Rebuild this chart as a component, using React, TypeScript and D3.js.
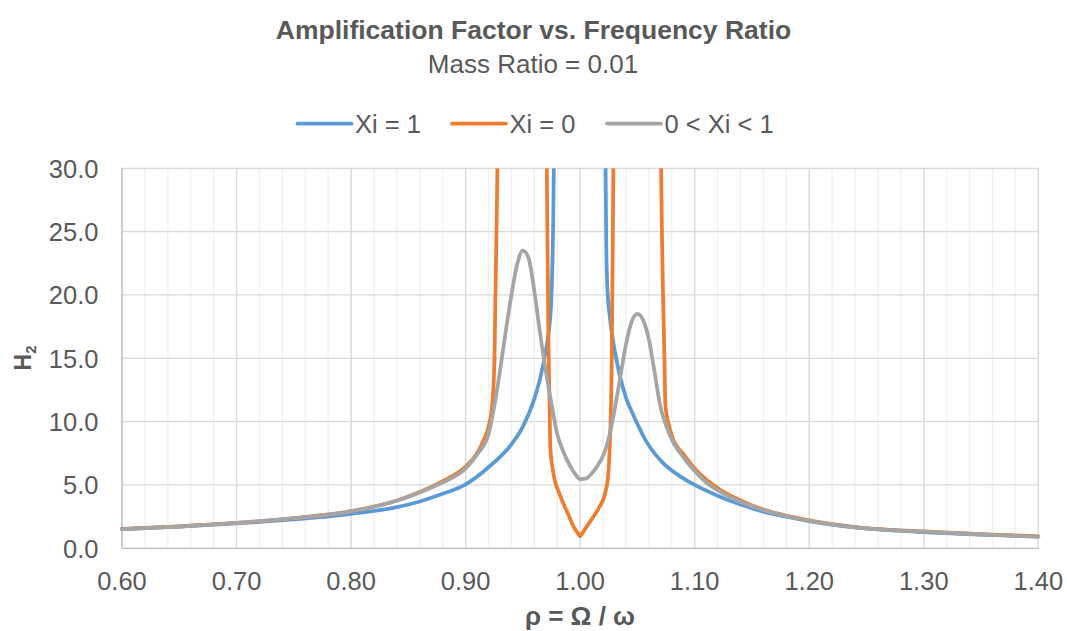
import React from "react";
import * as d3 from "d3";

const xTicks = [0.6, 0.7, 0.8, 0.9, 1.0, 1.1, 1.2, 1.3, 1.4];
const xMinorTicks = d3.range(0.6, 1.4001, 0.02);
const yTicks = [0, 5, 10, 15, 20, 25, 30];

const seriesNames = ["Xi = 1", "Xi = 0", "0 < Xi < 1"];
const seriesColors = ["#5B9BD5", "#ED7D31", "#A5A5A5"];

// Xi = 1
const blueRho = [0.60, 0.65, 0.70, 0.75, 0.80, 0.84, 0.86, 0.88, 0.90, 0.92, 0.94, 0.95, 0.96, 0.965, 0.97, 0.973, 0.975, 0.9765, 0.9775, 0.979, 1.0, 1.021, 1.0222, 1.0228, 1.0238, 1.026, 1.03, 1.035, 1.04, 1.0465, 1.058, 1.0727, 1.087, 1.10, 1.12, 1.14, 1.16, 1.18, 1.20, 1.24, 1.30, 1.35, 1.40];
const blueH = [1.52, 1.72, 1.97, 2.28, 2.72, 3.25, 3.7, 4.3, 5.05, 6.4, 8.2, 9.6, 11.8, 13.4, 15.6, 17.4, 20, 26, 34, 45, 45, 45, 30, 24, 20.5, 18.2, 15.7, 13.5, 11.9, 10.5, 8.4, 6.7, 5.7, 5.0, 4.15, 3.45, 2.9, 2.5, 2.15, 1.65, 1.28, 1.08, 0.92];

// Xi = 0
const orangeRho = [0.60, 0.65, 0.70, 0.75, 0.80, 0.84, 0.86, 0.88, 0.90, 0.91, 0.915, 0.92, 0.9235, 0.9252, 0.9278, 0.929, 0.970, 0.9709, 0.9723, 0.9732, 0.974, 0.976, 0.978, 0.982, 0.986, 0.990, 0.994, 0.998, 1.0, 1.002, 1.006, 1.0116, 1.017, 1.0218, 1.0246, 1.0256, 1.0276, 1.029, 1.030, 1.0697, 1.0707, 1.0736, 1.0745, 1.077, 1.08, 1.09, 1.10, 1.12, 1.14, 1.16, 1.18, 1.20, 1.24, 1.30, 1.35, 1.40];
const orangeH = [1.54, 1.74, 2.0, 2.38, 2.93, 3.78, 4.45, 5.3, 6.45, 7.5, 8.4, 9.6, 11.6, 14.9, 30, 40, 40, 30, 16.4, 12, 7.8, 6.3, 5.3, 4.3, 3.4, 2.6, 1.75, 1.2, 0.95, 1.2, 1.75, 2.5, 3.3, 4.34, 5.9, 7.5, 14.9, 30, 40, 40, 30, 14.9, 11.2, 9.9, 8.9, 7.45, 6.3, 4.75, 3.78, 3.06, 2.58, 2.2, 1.68, 1.33, 1.12, 0.95];

// 0 < Xi < 1
const grayRho = [0.60, 0.65, 0.70, 0.75, 0.80, 0.84, 0.86, 0.88, 0.90, 0.91, 0.92, 0.925, 0.930, 0.935, 0.940, 0.945, 0.950, 0.955, 0.960, 0.965, 0.970, 0.975, 0.980, 0.985, 0.990, 0.995, 1.0, 1.005, 1.010, 1.015, 1.020, 1.025, 1.030, 1.035, 1.040, 1.045, 1.050, 1.055, 1.060, 1.065, 1.070, 1.075, 1.080, 1.090, 1.10, 1.11, 1.12, 1.14, 1.16, 1.18, 1.20, 1.24, 1.30, 1.35, 1.40];
const grayH = [1.52, 1.72, 2.0, 2.38, 2.92, 3.75, 4.4, 5.2, 6.3, 7.4, 9.0, 11.2, 14.0, 17.1, 20.0, 22.4, 23.5, 22.9, 20.3, 17.0, 14.0, 11.4, 9.0, 7.7, 6.7, 5.95, 5.47, 5.5, 5.9, 6.5, 7.3, 8.7, 10.9, 13.5, 16.1, 17.9, 18.5, 18.0, 16.5, 13.9, 11.2, 9.7, 8.6, 7.2, 6.1, 5.2, 4.6, 3.68, 3.02, 2.55, 2.16, 1.66, 1.31, 1.1, 0.92];

const seriesRho = [blueRho, orangeRho, grayRho];
const seriesH = [blueH, orangeH, grayH];

const W = 1067;
const H = 631;
const left = 122;
const right = 1038.3;
const top = 168.3;
const bottom = 548.3;
const FONT = "'Liberation Sans', Arial, sans-serif";
const TEXT = "#595959";

export default function App() {
  const x = d3.scaleLinear().domain([0.6, 1.4]).range([left, right]);
  const y = d3.scaleLinear().domain([0, 30]).range([bottom, top]);
  const line = d3
    .line<[number, number]>()
    .x((d) => x(d[0]))
    .y((d) => y(d[1]))
    .curve(d3.curveMonotoneX);

  const legendStarts = [297.5, 452, 607];

  return (
    <svg
      width={W}
      height={H}
      style={{ position: "absolute", left: 0, top: 0, background: "#fff" }}
      fontFamily={FONT}
    >
      <defs>
        <clipPath id="plotClip">
          <rect x={left - 3} y={top} width={right - left + 6} height={bottom - top + 3} />
        </clipPath>
      </defs>
      <rect x={0} y={0} width={W} height={H} fill="#fff" />

      {/* minor vertical grid */}
      {xMinorTicks.map((t, i) => (
        <line key={"mn" + i} x1={x(t)} x2={x(t)} y1={top} y2={bottom} stroke="#f0f0f0" strokeWidth={1.3} />
      ))}
      {/* major vertical grid */}
      {xTicks.map((t, i) => (
        <line key={"mj" + i} x1={x(t)} x2={x(t)} y1={top} y2={bottom} stroke="#d9d9d9" strokeWidth={1.3} />
      ))}
      {/* horizontal grid */}
      {yTicks.map((t, i) => (
        <line key={"hg" + i} x1={left} x2={right} y1={y(t)} y2={y(t)} stroke="#d9d9d9" strokeWidth={1.3} />
      ))}
      {/* axes */}
      <line x1={left} x2={left} y1={top} y2={bottom} stroke="#bfbfbf" strokeWidth={1.3} />
      <line x1={left} x2={right} y1={bottom} y2={bottom} stroke="#bfbfbf" strokeWidth={1.3} />

      {/* series */}
      <g clipPath="url(#plotClip)">
        {seriesRho.map((rs, si) => (
          <path
            key={"s" + si}
            d={line(rs.map((r, i) => [r, seriesH[si][i]] as [number, number])) || ""}
            fill="none"
            stroke={seriesColors[si]}
            strokeWidth={3.75}
            strokeLinejoin="round"
            strokeLinecap="round"
          />
        ))}
      </g>

      {/* y tick labels */}
      {yTicks.map((t, i) => (
        <text key={"yl" + i} x={98.5} y={y(t) + 9.2} textAnchor="end" fontSize={25.5} fill={TEXT}>
          {t.toFixed(1)}
        </text>
      ))}
      {/* x tick labels */}
      {xTicks.map((t, i) => (
        <text key={"xl" + i} x={x(t)} y={590} textAnchor="middle" fontSize={25.5} fill={TEXT}>
          {t.toFixed(2)}
        </text>
      ))}

      {/* titles */}
      <text x={533.5} y={38.5} textAnchor="middle" fontSize={26.5} fontWeight="bold" fill={TEXT}>
        Amplification Factor vs. Frequency Ratio
      </text>
      <text x={533} y={72.5} textAnchor="middle" fontSize={26} fill={TEXT}>
        Mass Ratio = 0.01
      </text>

      {/* legend */}
      {seriesNames.map((n, i) => (
        <g key={"lg" + i}>
          <line
            x1={legendStarts[i]}
            x2={legendStarts[i] + 54}
            y1={123.6}
            y2={123.6}
            stroke={seriesColors[i]}
            strokeWidth={3.75}
            strokeLinecap="round"
          />
          <text x={legendStarts[i] + 57.5} y={132.8} fontSize={25.5} fill={TEXT}>
            {n}
          </text>
        </g>
      ))}

      {/* axis titles */}
      <text x={580} y={624.5} textAnchor="middle" fontSize={26} fontWeight="bold" fill={TEXT}>
        ρ = Ω / ω
      </text>
      <text
        transform="translate(30.5,358) rotate(-90)"
        textAnchor="middle"
        fontSize={23}
        fontWeight="bold"
        fill={TEXT}
      >
        <tspan>H</tspan>
        <tspan fontSize={15} dy={5}>2</tspan>
      </text>
    </svg>
  );
}
